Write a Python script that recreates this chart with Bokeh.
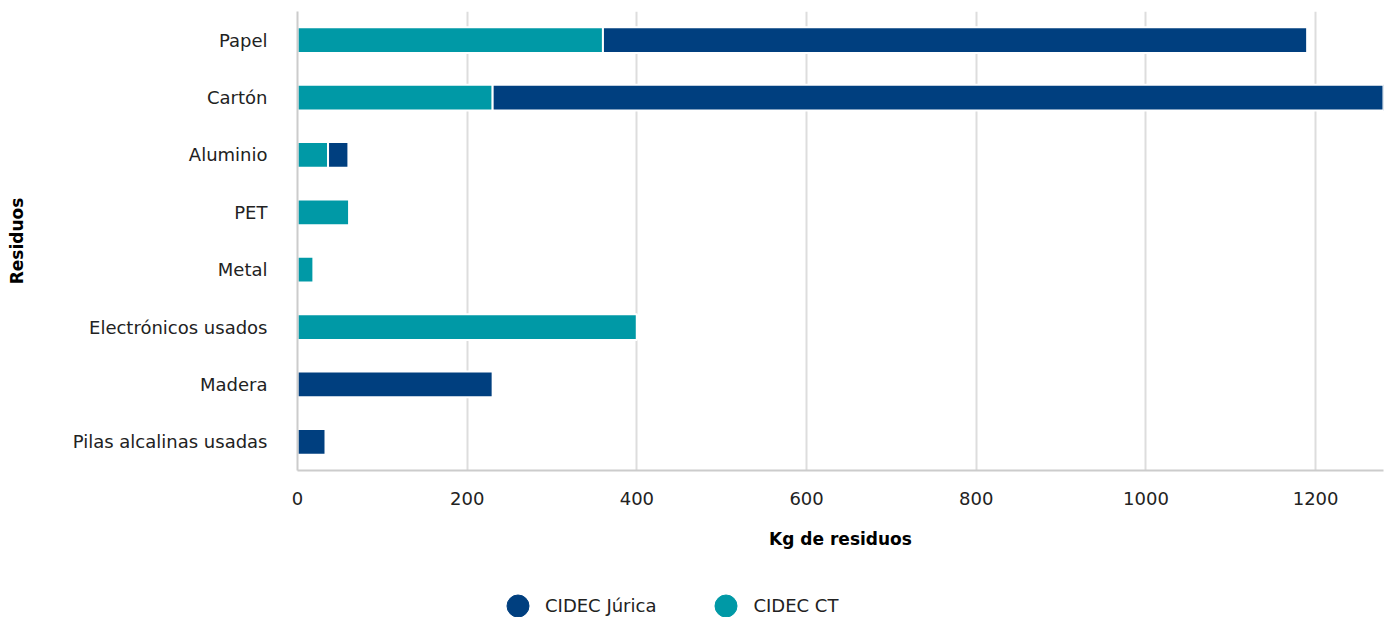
from bokeh.plotting import figure
from bokeh.layouts import column
from bokeh.models import ColumnDataSource, FactorRange, Range1d, FixedTicker, Legend, LegendItem
from bokeh.embed import file_html
from bokeh.resources import INLINE

categories = ["Papel", "Cartón", "Aluminio", "PET", "Metal",
              "Electrónicos usados", "Madera", "Pilas alcalinas usadas"]
cidec_ct = [360, 230, 36, 61, 19, 400, 0, 0]
cidec_jurica = [830, 1050, 24, 0, 0, 0, 230, 33]
x_ticks = [0, 200, 400, 600, 800, 1000, 1200]
series_names = ["CIDEC Júrica", "CIDEC CT"]

TEAL = "#0099a6"
BLUE = "#003f7f"
FONT = "DejaVu Sans"
FS = "18px"

source = ColumnDataSource(dict(cat=categories, ct=cidec_ct, jurica=cidec_jurica))

p = figure(width=1388, height=592, output_backend="svg", toolbar_location=None,
           y_range=FactorRange(*list(reversed(categories))),
           x_range=Range1d(0, 1280),
           min_border_left=297, min_border_right=5, min_border_top=11, min_border_bottom=122)
p.outline_line_color = None

rs = p.hbar_stack(["ct", "jurica"], y="cat", height=0.45, color=[TEAL, BLUE],
                  line_color="white", line_width=2, source=source)

p.xaxis.ticker = FixedTicker(ticks=x_ticks)
p.xgrid.ticker = FixedTicker(ticks=x_ticks)
p.xgrid.grid_line_color = "#dddddd"
p.xgrid.grid_line_width = 2
p.ygrid.grid_line_color = None

for ax in (p.xaxis[0], p.yaxis[0]):
    ax.axis_line_color = "#cccccc"
    ax.axis_line_width = 2
    ax.major_tick_line_color = None
    ax.minor_tick_line_color = None
    ax.major_label_text_font = FONT
    ax.major_label_text_font_size = FS
    ax.major_label_text_color = "#222222"
    ax.axis_label_text_font = FONT
    ax.axis_label_text_font_size = "17px"
    ax.axis_label_text_font_style = "bold"
    ax.axis_label_text_color = "#000000"

p.xaxis.axis_label = "Kg de residuos"
p.xaxis.major_label_standoff = 15
p.xaxis.axis_label_standoff = 21
p.yaxis.axis_label = "Residuos"
p.yaxis.major_label_standoff = 24
p.yaxis.axis_label_standoff = 43

# legend strip (frame aligned with main plot frame by the column layout)
lg = figure(width=1388, height=25, output_backend="svg", toolbar_location=None,
            x_range=Range1d(0, 1), y_range=Range1d(0, 1),
            min_border_left=0, min_border_right=0, min_border_top=0, min_border_bottom=0)
lg.axis.visible = False
lg.grid.visible = False
lg.outline_line_color = None
g_j = lg.scatter(x=[-10], y=[-10], marker="circle", size=22, fill_color=BLUE, line_color=BLUE)
g_c = lg.scatter(x=[-10], y=[-10], marker="circle", size=22, fill_color=TEAL, line_color=TEAL)

legend = Legend(items=[LegendItem(label=series_names[0], renderers=[g_j], index=0),
                       LegendItem(label=series_names[1], renderers=[g_c], index=0)],
                orientation="horizontal", location=(193, -16),
                glyph_width=55, glyph_height=55, label_standoff=0, spacing=42,
                padding=0, margin=0, border_line_color=None, background_fill_alpha=0,
                label_text_font=FONT, label_text_font_size=FS, label_text_color="#222222")
lg.add_layout(legend, "center")

layout = column(p, lg, spacing=0)
open("out.html", "w").write(file_html(layout, INLINE))
